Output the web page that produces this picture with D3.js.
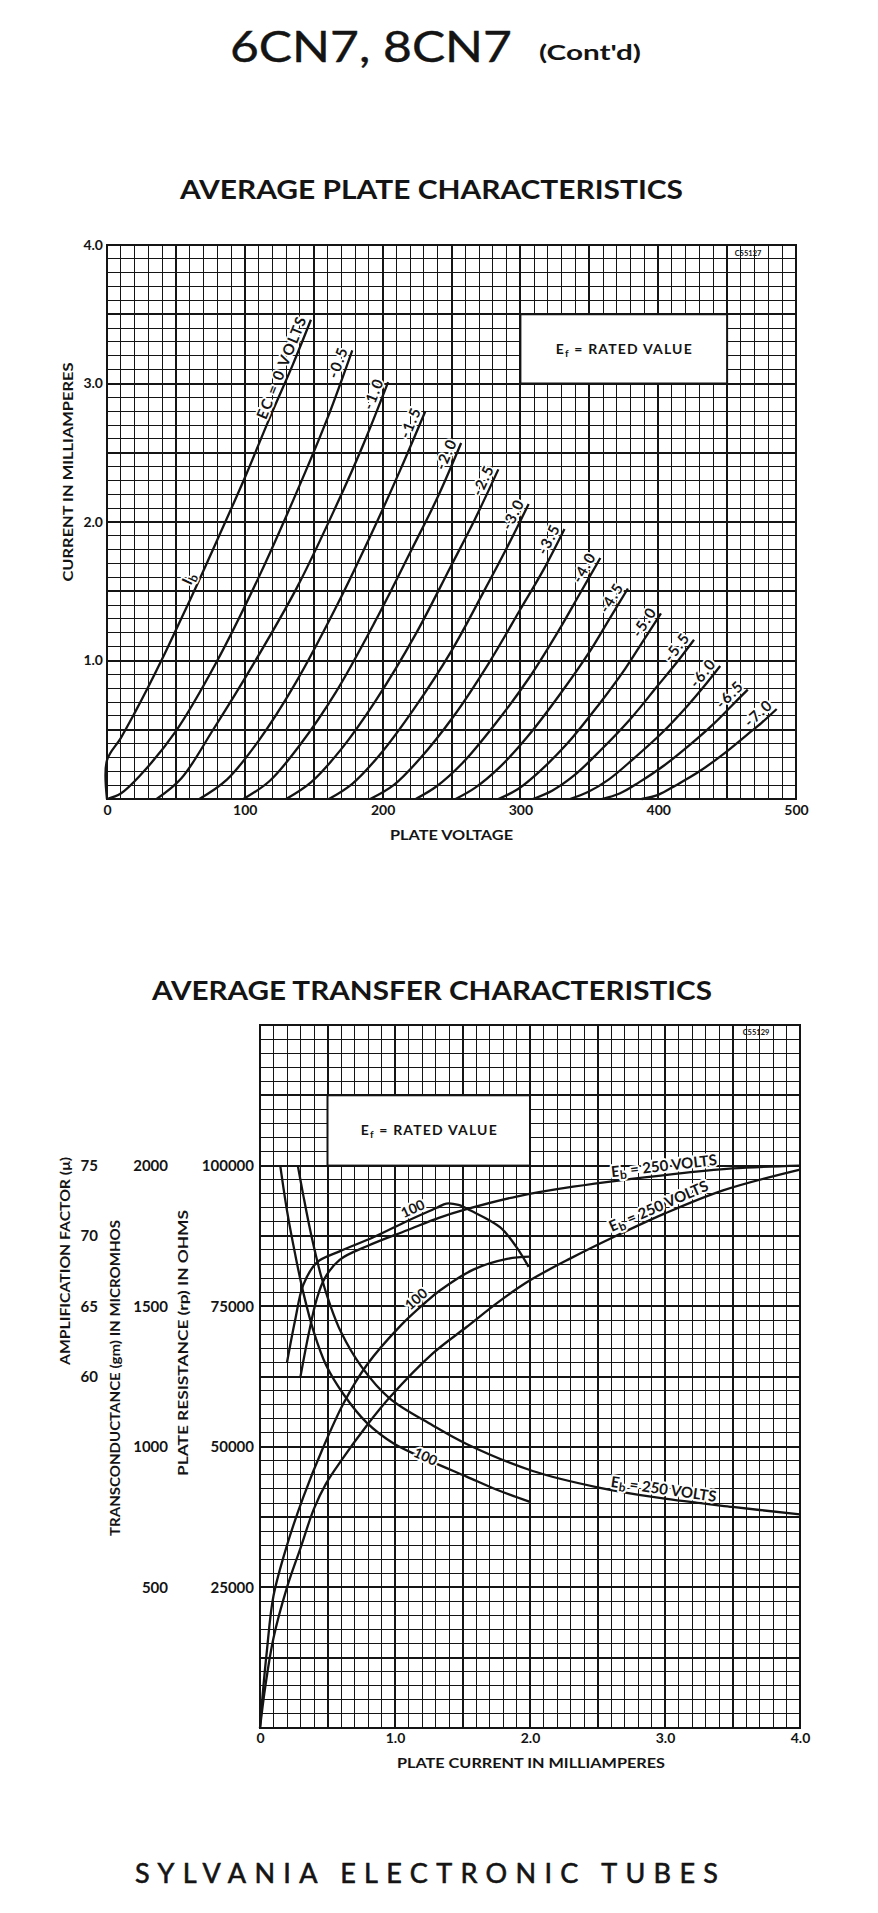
<!DOCTYPE html>
<html>
<head>
<meta charset="utf-8">
<script src="https://cdn.jsdelivr.net/npm/d3@7"></script>
<style>
  body { margin: 0; background: #fff; }
  svg { display: block; font-family: Lato, "DejaVu Sans", sans-serif; }
</style>
</head>
<body>
<div id="chart"></div>
<script>
/* =========================================
   6CN7 / 8CN7 — plate + transfer characteristics
   ========================================= */

// ---- Plate characteristics data (plate volts, milliamperes) ----
const voltTicks = [0, 100, 200, 300, 400, 500];
const ampTicks = [1, 2, 3, 4];
const biasLabels = ['EC = 0 VOLTS', '-0.5', '-1.0', '-1.5', '-2.0', '-2.5', '-3.0', '-3.5',
  '-4.0', '-4.5', '-5.0', '-5.5', '-6.0', '-6.5', '-7.0'];

const ec00 = [[0, 0], [0, 0.28], [10, 0.44], [20, 0.62], [30, 0.81], [40, 1.01], [50, 1.22], [65, 1.54], [80, 1.87], [100, 2.32], [118, 2.75], [135, 3.14], [148, 3.46]];
const ec05 = [[0, 0], [10, 0.04], [24, 0.17], [50, 0.49], [79, 0.98], [111, 1.62], [140, 2.27], [160, 2.75], [178, 3.24]];
const ec10 = [[36, 0], [54, 0.15], [77, 0.5], [106, 0.97], [138, 1.53], [166, 2.11], [186, 2.56], [204, 3.01]];
const ec15 = [[67, 0], [87, 0.14], [110, 0.42], [137, 0.84], [167, 1.4], [194, 1.96], [213, 2.38], [231, 2.8]];
const ec20 = [[99, 0], [118, 0.13], [140, 0.39], [166, 0.77], [195, 1.29], [221, 1.8], [240, 2.18], [257, 2.57]];
const ec25 = [[130, 0], [148, 0.12], [170, 0.36], [195, 0.71], [224, 1.19], [249, 1.67], [267, 2.02], [284, 2.38]];
const ec30 = [[161, 0], [178, 0.11], [198, 0.32], [222, 0.64], [250, 1.07], [273, 1.49], [290, 1.81], [306, 2.13]];
const ec35 = [[191, 0], [208, 0.1], [227, 0.29], [251, 0.59], [277, 0.98], [300, 1.37], [317, 1.66], [332, 1.95]];
const ec40 = [[224, 0], [239, 0.09], [258, 0.26], [280, 0.52], [306, 0.87], [328, 1.22], [343, 1.48], [358, 1.74]];
const ec45 = [[253, 0], [267, 0.08], [285, 0.23], [306, 0.46], [329, 0.76], [350, 1.06], [364, 1.29], [378, 1.52]];
const ec50 = [[284, 0], [298, 0.07], [314, 0.2], [334, 0.4], [356, 0.67], [376, 0.94], [389, 1.14], [402, 1.34]];
const ec55 = [[309, 0], [323, 0.06], [339, 0.17], [358, 0.35], [380, 0.58], [399, 0.81], [413, 0.98], [426, 1.15]];
const ec60 = [[336, 0], [349, 0.05], [364, 0.14], [382, 0.29], [403, 0.48], [421, 0.67], [433, 0.81], [445, 0.96]];
const ec65 = [[359, 0], [372, 0.04], [386, 0.12], [404, 0.24], [424, 0.4], [441, 0.55], [453, 0.67], [465, 0.79]];
const ec70 = [[388, 0], [400, 0.03], [413, 0.1], [430, 0.2], [448, 0.33], [464, 0.46], [475, 0.55], [486, 0.65]];

// ---- Transfer characteristics data (plate mA vs mu / gm / rp) ----
const currentTicks = [0, 1, 2, 3, 4];
const muTicks = [75, 70, 65, 60];
const gmTicks = [2000, 1500, 1000, 500];
const rpTicks = [100000, 75000, 50000, 25000];

const mu100 = [[0.2, 61.0], [0.26, 64.0], [0.32, 66.5], [0.42, 68.1], [0.59, 68.9], [0.84, 69.9], [1.1, 71.1], [1.31, 72.0], [1.38, 72.3], [1.47, 72.2], [1.56, 71.8], [1.78, 70.6], [1.9, 69.2], [1.99, 67.8]];
const mu250 = [[0.3, 60.0], [0.36, 63.0], [0.42, 65.5], [0.48, 67.0], [0.59, 68.3], [0.8, 69.3], [1.09, 70.4], [1.33, 71.3], [1.53, 71.9], [1.9, 72.8], [2.32, 73.5], [3.06, 74.4], [3.5, 74.8], [4.0, 75.0]];
const gm100 = [[0, 0], [0.02, 120], [0.05, 270], [0.1, 470], [0.2, 650], [0.32, 820], [0.47, 1000], [0.62, 1156], [0.79, 1290], [1.04, 1430], [1.23, 1515], [1.33, 1555], [1.58, 1630], [1.83, 1668], [2.0, 1676]];
const gm250 = [[0, 0], [0.04, 150], [0.1, 320], [0.2, 500], [0.3, 640], [0.4, 780], [0.49, 870], [0.6, 950], [0.79, 1075], [0.96, 1175], [1.28, 1332], [1.53, 1426], [1.78, 1520], [2.0, 1592], [2.3, 1670], [2.62, 1746], [3.0, 1830], [3.43, 1912], [4.0, 1986]];
const rp100 = [[0.15, 100000], [0.2, 92000], [0.26, 84300], [0.32, 77500], [0.4, 70300], [0.49, 64500], [0.62, 59300], [0.79, 54300], [0.99, 50600], [1.26, 47500], [1.53, 44700], [1.75, 42400], [2.0, 40200]];
const rp250 = [[0.28, 100000], [0.32, 94800], [0.38, 87600], [0.45, 80600], [0.52, 75200], [0.6, 70400], [0.75, 64300], [0.96, 58600], [1.28, 53800], [1.53, 50500], [2.02, 45700], [2.5, 42800], [2.96, 40900], [3.5, 39300], [4.0, 38000]];

const plateCurves = [ec00, ec05, ec10, ec15, ec20, ec25, ec30, ec35, ec40, ec45, ec50, ec55, ec60, ec65, ec70];

const INK = '#141414';
const svg = d3.select('#chart').append('svg').attr('width', 878).attr('height', 1913);

// ---- Helpers ----
function drawGrid(g, x, y, nx, ny, every) {
  const [x0, x1] = x.domain(), [y0, y1] = y.domain();
  const xs = d3.range(nx + 1).map(i => ({ v: x0 + i * (x1 - x0) / nx, major: i % every === 0 }));
  const ys = d3.range(ny + 1).map(i => ({ v: y0 + i * (y1 - y0) / ny, major: i % every === 0 }));
  const lines = g.append('g').attr('shape-rendering', 'crispEdges');
  lines.append('g').selectAll('line').data(xs).join('line')
    .attr('x1', d => x(d.v)).attr('x2', d => x(d.v))
    .attr('y1', y.range()[0]).attr('y2', y.range()[1])
    .attr('stroke', INK).attr('stroke-width', d => d.major ? 2 : 1);
  lines.append('g').selectAll('line').data(ys).join('line')
    .attr('y1', d => y(d.v)).attr('y2', d => y(d.v))
    .attr('x1', x.range()[0]).attr('x2', x.range()[1])
    .attr('stroke', INK).attr('stroke-width', d => d.major ? 2 : 1);
  lines.append('rect')
    .attr('x', x.range()[0]).attr('y', y.range()[1])
    .attr('width', x.range()[1] - x.range()[0]).attr('height', y.range()[0] - y.range()[1])
    .attr('fill', 'none').attr('stroke', INK).attr('stroke-width', 2.2);
}

function ratedBox(g, x, y, xa, xb, ya, yb) {
  g.append('rect')
    .attr('x', x(xa)).attr('y', y(yb))
    .attr('width', x(xb) - x(xa)).attr('height', y(ya) - y(yb))
    .attr('fill', '#fff').attr('stroke', INK).attr('stroke-width', 2);
  const t = g.append('text')
    .attr('x', (x(xa) + x(xb)) / 2).attr('y', (y(ya) + y(yb)) / 2 + 5)
    .attr('text-anchor', 'middle').attr('font-size', 14).attr('font-weight', 700).attr('fill', INK)
    .attr('textLength', 136).attr('lengthAdjust', 'spacing');
  t.append('tspan').text('E');
  t.append('tspan').attr('dy', 3).attr('font-size', 10).text('f');
  t.append('tspan').attr('dy', -3).text(' = RATED  VALUE');
}

function yAt(pts, xv) {
  let i = 0;
  while (i < pts.length - 2 && pts[i + 1][0] < xv) i++;
  const a = pts[i], b = pts[i + 1];
  const t = (xv - a[0]) / (b[0] - a[0]);
  return a[1] + t * (b[1] - a[1]);
}

function halo(sel, w) {
  return sel.attr('stroke', '#fff').attr('stroke-width', w).attr('paint-order', 'stroke')
    .attr('stroke-linejoin', 'round');
}

const curveLine = (x, y) => d3.line()
  .x(d => x(d[0])).y(d => y(d[1]))
  .curve(d3.curveCatmullRom.alpha(0.5));

// ---- Page titles ----
svg.append('text').attr('x', 230).attr('y', 62)
  .attr('font-size', 42).attr('font-weight', 400).attr('fill', INK)
  .attr('stroke', INK).attr('stroke-width', 0.4)
  .attr('textLength', 282).attr('lengthAdjust', 'spacingAndGlyphs')
  .text('6CN7, 8CN7');
svg.append('text').attr('x', 539).attr('y', 60)
  .attr('font-size', 21).attr('font-weight', 700).attr('fill', INK)
  .attr('textLength', 102).attr('lengthAdjust', 'spacingAndGlyphs')
  .text("(Cont'd)");

// =========================================
//   Average plate characteristics
// =========================================
const x1 = d3.scaleLinear().domain([0, 500]).range([107, 796]);
const y1 = d3.scaleLinear().domain([0, 4]).range([799, 245]);
const p1 = svg.append('g');

p1.append('text').attr('x', 180).attr('y', 199)
  .attr('font-size', 26).attr('font-weight', 700).attr('fill', INK)
  .attr('textLength', 503).attr('lengthAdjust', 'spacingAndGlyphs')
  .text('AVERAGE PLATE CHARACTERISTICS');

drawGrid(p1, x1, y1, 50, 40, 5);
ratedBox(p1, x1, y1, 300, 450, 3.0, 3.5);

p1.append('text').attr('x', 748).attr('y', 256)
  .attr('text-anchor', 'middle').attr('font-size', 7.5).attr('font-weight', 700)
  .attr('fill', INK).text('C55127');

// ---- Axes ----
p1.append('g')
  .attr('transform', `translate(0,${y1.range()[0]})`)
  .call(d3.axisBottom(x1).tickValues(voltTicks).tickSize(0).tickPadding(6))
  .call(g => g.select('.domain').remove())
  .selectAll('text').attr('font-family', 'Lato, "DejaVu Sans", sans-serif')
  .attr('font-size', 14).attr('font-weight', 700).attr('fill', INK);

p1.append('g')
  .attr('transform', `translate(${x1.range()[0]},0)`)
  .call(d3.axisLeft(y1).tickValues(ampTicks).tickSize(0).tickPadding(4).tickFormat(d3.format('.1f')))
  .call(g => g.select('.domain').remove())
  .selectAll('text').attr('font-family', 'Lato, "DejaVu Sans", sans-serif')
  .attr('font-size', 14).attr('font-weight', 700).attr('fill', INK);

p1.append('text').attr('x', 390).attr('y', 840)
  .attr('font-size', 14).attr('font-weight', 700).attr('fill', INK)
  .attr('textLength', 123).attr('lengthAdjust', 'spacingAndGlyphs')
  .text('PLATE  VOLTAGE');

p1.append('text').attr('transform', 'translate(68,472) rotate(-90)')
  .attr('text-anchor', 'middle').attr('dy', '0.35em')
  .attr('font-size', 14).attr('font-weight', 700).attr('fill', INK)
  .attr('textLength', 219).attr('lengthAdjust', 'spacingAndGlyphs')
  .text('CURRENT  IN  MILLIAMPERES');

// ---- Curves ----
p1.append('g').selectAll('path').data(plateCurves).join('path')
  .attr('d', curveLine(x1, y1))
  .attr('fill', 'none').attr('stroke', INK).attr('stroke-width', 2.3);

// ---- Curve end labels ----
plateCurves.forEach((pts, i) => {
  const n = pts.length;
  const ax = x1(pts[n - 2][0]), ay = y1(pts[n - 2][1]);
  const bx = x1(pts[n - 1][0]), by = y1(pts[n - 1][1]);
  const ang = Math.atan2(by - ay, bx - ax) * 180 / Math.PI;
  halo(p1.append('text'), 3.5)
    .attr('transform', `translate(${bx},${by}) rotate(${ang})`)
    .attr('text-anchor', 'end').attr('dy', -4)
    .attr('font-size', 15).attr('font-weight', 700).attr('letter-spacing', 1.5)
    .attr('fill', INK)
    .text(biasLabels[i]);
});

// I_b tag on the zero-bias curve
{
  const v = 66;
  const px = x1(v), py = y1(yAt(ec00, v));
  const ang = Math.atan2(y1(yAt(ec00, v + 10)) - y1(yAt(ec00, v - 10)), x1(v + 10) - x1(v - 10)) * 180 / Math.PI;
  const t = halo(p1.append('text'), 3.5)
    .attr('transform', `translate(${px},${py}) rotate(${ang})`)
    .attr('text-anchor', 'middle').attr('dy', -5)
    .attr('font-size', 15).attr('font-weight', 700).attr('fill', INK);
  t.append('tspan').text('I');
  t.append('tspan').attr('dy', 3).attr('font-size', 12).text('b');
}

// =========================================
//   Average transfer characteristics
// =========================================
const x2 = d3.scaleLinear().domain([0, 4]).range([260, 800]);
const rpY = d3.scaleLinear().domain([0, 125000]).range([1728, 1025]);
const gmY = d3.scaleLinear().domain([0, 2500]).range([1728, 1025]);
const muY = d3.scaleLinear().domain([35, 85]).range([1728, 1025]);
const p2 = svg.append('g');

p2.append('text').attr('x', 152).attr('y', 1000)
  .attr('font-size', 27).attr('font-weight', 700).attr('fill', INK)
  .attr('textLength', 560).attr('lengthAdjust', 'spacingAndGlyphs')
  .text('AVERAGE TRANSFER CHARACTERISTICS');

drawGrid(p2, x2, rpY, 40, 50, 5);
ratedBox(p2, x2, rpY, 0.5, 2.0, 100000, 112500);

p2.append('text').attr('x', 756).attr('y', 1035)
  .attr('text-anchor', 'middle').attr('font-size', 7.5).attr('font-weight', 700)
  .attr('fill', INK).text('C55129');

// ---- Axes ----
p2.append('g')
  .attr('transform', `translate(0,${rpY.range()[0]})`)
  .call(d3.axisBottom(x2).tickValues(currentTicks).tickSize(0).tickPadding(5)
    .tickFormat(d => d === 0 ? '0' : d3.format('.1f')(d)))
  .call(g => g.select('.domain').remove())
  .selectAll('text').attr('font-family', 'Lato, "DejaVu Sans", sans-serif')
  .attr('font-size', 14).attr('font-weight', 700).attr('fill', INK);

const sideAxis = (scale, ticks, xPos) => p2.append('g')
  .attr('transform', `translate(${xPos},0)`)
  .call(d3.axisLeft(scale).tickValues(ticks).tickSize(0).tickPadding(0).tickFormat(d3.format('d')))
  .call(g => g.select('.domain').remove())
  .selectAll('text').attr('font-family', 'Lato, "DejaVu Sans", sans-serif')
  .attr('font-size', 15).attr('font-weight', 700).attr('fill', INK);

sideAxis(muY, muTicks, 98);
sideAxis(gmY, gmTicks, 168);
sideAxis(rpY, rpTicks, 254);

const sideTitle = (text, x, yc, len) => p2.append('text')
  .attr('transform', `translate(${x},${yc}) rotate(-90)`)
  .attr('text-anchor', 'middle').attr('dy', '0.35em')
  .attr('font-size', 14).attr('font-weight', 700).attr('fill', INK)
  .attr('textLength', len).attr('lengthAdjust', 'spacingAndGlyphs')
  .text(text);

sideTitle('AMPLIFICATION  FACTOR  (\u03bc)', 65, 1261, 208);
sideTitle('TRANSCONDUCTANCE  (gm)  IN  MICROMHOS', 115, 1378, 316);
sideTitle('PLATE  RESISTANCE  (rp)  IN  OHMS', 183, 1343, 266);

p2.append('text').attr('x', 397).attr('y', 1768)
  .attr('font-size', 14).attr('font-weight', 700).attr('fill', INK)
  .attr('textLength', 268).attr('lengthAdjust', 'spacingAndGlyphs')
  .text('PLATE  CURRENT  IN  MILLIAMPERES');

// ---- Curves ----
const transfer = [
  { pts: mu100, y: muY }, { pts: mu250, y: muY },
  { pts: gm100, y: gmY }, { pts: gm250, y: gmY },
  { pts: rp100, y: rpY }, { pts: rp250, y: rpY }
];

p2.append('g').selectAll('path').data(transfer).join('path')
  .attr('d', d => curveLine(x2, d.y)(d.pts))
  .attr('fill', 'none').attr('stroke', INK).attr('stroke-width', 2.3);

// ---- Inline curve labels ----
function transferLabel(pts, y, at, sub, rest, dy, size) {
  const px = x2(at), py = y(yAt(pts, at));
  const ang = Math.atan2(y(yAt(pts, at + 0.15)) - y(yAt(pts, at - 0.15)), x2(at + 0.15) - x2(at - 0.15)) * 180 / Math.PI;
  const t = halo(p2.append('text'), 4)
    .attr('transform', `translate(${px},${py}) rotate(${ang})`)
    .attr('text-anchor', 'middle').attr('dy', dy)
    .attr('font-size', size).attr('font-weight', 700).attr('fill', INK);
  if (sub) {
    t.append('tspan').text('E');
    t.append('tspan').attr('dy', 3).attr('font-size', size - 3).text('b');
    t.append('tspan').attr('dy', -3).text(rest);
  } else {
    t.text(rest);
  }
}

transferLabel(mu100, muY, 1.16, false, '100', -4, 14);
transferLabel(gm100, gmY, 1.2, false, '100', -4, 14);
transferLabel(rp100, rpY, 1.22, false, '100', 3, 14);
transferLabel(mu250, muY, 3.0, true, ' = 250  VOLTS', -4, 15);
transferLabel(gm250, gmY, 2.98, true, ' = 250  VOLTS', -4, 15);
transferLabel(rp250, rpY, 2.98, true, ' = 250  VOLTS', -4, 15);

// ---- Footer ----
svg.append('text').attr('x', 135).attr('y', 1883)
  .attr('font-size', 27).attr('font-weight', 400).attr('fill', INK)
  .attr('stroke', INK).attr('stroke-width', 0.6)
  .attr('textLength', 583).attr('lengthAdjust', 'spacing')
  .text('SYLVANIA  ELECTRONIC  TUBES');
</script>
</body>
</html>
